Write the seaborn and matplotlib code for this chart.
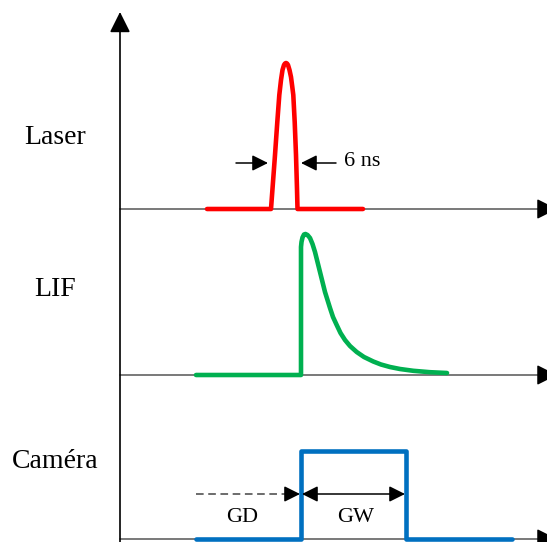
import pandas as pd
import seaborn as sns
import matplotlib.pyplot as plt

sns.set_theme(style="white")
plt.rcParams['font.family'] = ['Liberation Serif', 'DejaVu Serif']

# time positions (px along the time axis) and heights above each baseline
laser_t = [207, 271, 273, 275, 277.3, 279.3, 281, 282.5, 284, 285, 286, 287, 288, 289.5, 291, 292.3, 293.3, 294.7, 296, 297, 297.5, 363]
laser_h = [0, 0, 27, 54, 87, 114, 129, 139, 144, 145.5, 146, 145.5, 144, 139, 132, 122, 114, 87, 54, 20, 0, 0]

lif_t = [196, 301, 301, 301.5, 302.5, 304, 305.5, 307.5, 310, 312.5, 315, 317.5, 320, 322.5, 325, 327.5, 330, 333,
         336.7, 340.5, 345, 350, 356.7, 364, 373.3, 381, 390, 400, 413.3, 430, 447]
lif_h = [0, 0, 128, 133, 137.5, 140.5, 141, 140, 137, 131, 123, 113, 103, 93, 83, 75, 67, 58,
         50, 42, 35, 29, 23, 18, 13.5, 10.5, 8, 6, 4.2, 2.8, 2]

cam_t = [196, 301, 301, 406, 406, 512]
cam_h = [0, 0, 88, 88, 0, 0]

signals = ["Laser", "LIF", "Caméra"]
baselines = [209, 375, 539]
colors = ["#FF0000", "#00B050", "#0070C0"]
label_y = [138, 290, 462]

rows = []
for name, base, ts, hs in zip(signals, baselines, [laser_t, lif_t, cam_t], [laser_h, lif_h, cam_h]):
    for i, (t, h) in enumerate(zip(ts, hs)):
        rows.append({"signal": name, "order": i, "t": t, "y": base - h})
df = pd.DataFrame(rows)

fig = plt.figure(figsize=(5.47, 5.42), dpi=100)
ax = fig.add_axes([0, 0, 1, 1])

# axes: vertical arrow and one time axis per signal
ax.annotate("", xy=(120, 12), xytext=(120, 542), annotation_clip=False,
            arrowprops=dict(arrowstyle="-|>,head_length=0.9,head_width=0.45", color="black", lw=1.2,
                            shrinkA=0, shrinkB=0, mutation_scale=14))
for base in baselines:
    ax.plot([120, 543], [base, base], color="#555555", lw=1.1, zorder=1)
    ax.annotate("", xy=(557, base), xytext=(542, base), annotation_clip=False,
                arrowprops=dict(arrowstyle="-|>,head_length=0.9,head_width=0.45", color="black", lw=1,
                                shrinkA=0, shrinkB=0, mutation_scale=14))

sns.lineplot(data=df, x="t", y="y", hue="signal", units="signal", estimator=None, sort=False,
             palette=dict(zip(signals, colors)), lw=3.3, legend=False, ax=ax, zorder=3)
ax.set_xlim(0, 547)
ax.set_ylim(542, 0)
ax.axis("off")

for name, yy in zip(signals, label_y):
    ax.text(55, yy, name, fontsize=20, ha="center", va="center", color="black")

# pulse width marker
small = dict(arrowstyle="-|>,head_length=0.8,head_width=0.4", color="black", lw=1.1,
             shrinkA=0, shrinkB=0, mutation_scale=12)
ax.annotate("", xy=(268, 163), xytext=(236, 163), arrowprops=small)
ax.annotate("", xy=(301, 163), xytext=(336, 163), arrowprops=small)
ax.text(344, 162, "6 ns", fontsize=16, ha="left", va="center", color="black")

# gate delay / gate width
ax.plot([196, 290], [494, 494], color="#444444", lw=1.1, ls=(0, (5, 3)))
ax.annotate("", xy=(300, 494), xytext=(288, 494), arrowprops=small)
ax.annotate("", xy=(302, 494), xytext=(405, 494),
            arrowprops=dict(arrowstyle="<|-|>,head_length=0.8,head_width=0.4", color="black", lw=1.1,
                            shrinkA=0, shrinkB=0, mutation_scale=12))
ax.text(242, 517, "GD", fontsize=16, ha="center", va="center", color="black")
ax.text(356, 517, "GW", fontsize=16, ha="center", va="center", color="black")

fig.savefig("out.png", dpi=100)
